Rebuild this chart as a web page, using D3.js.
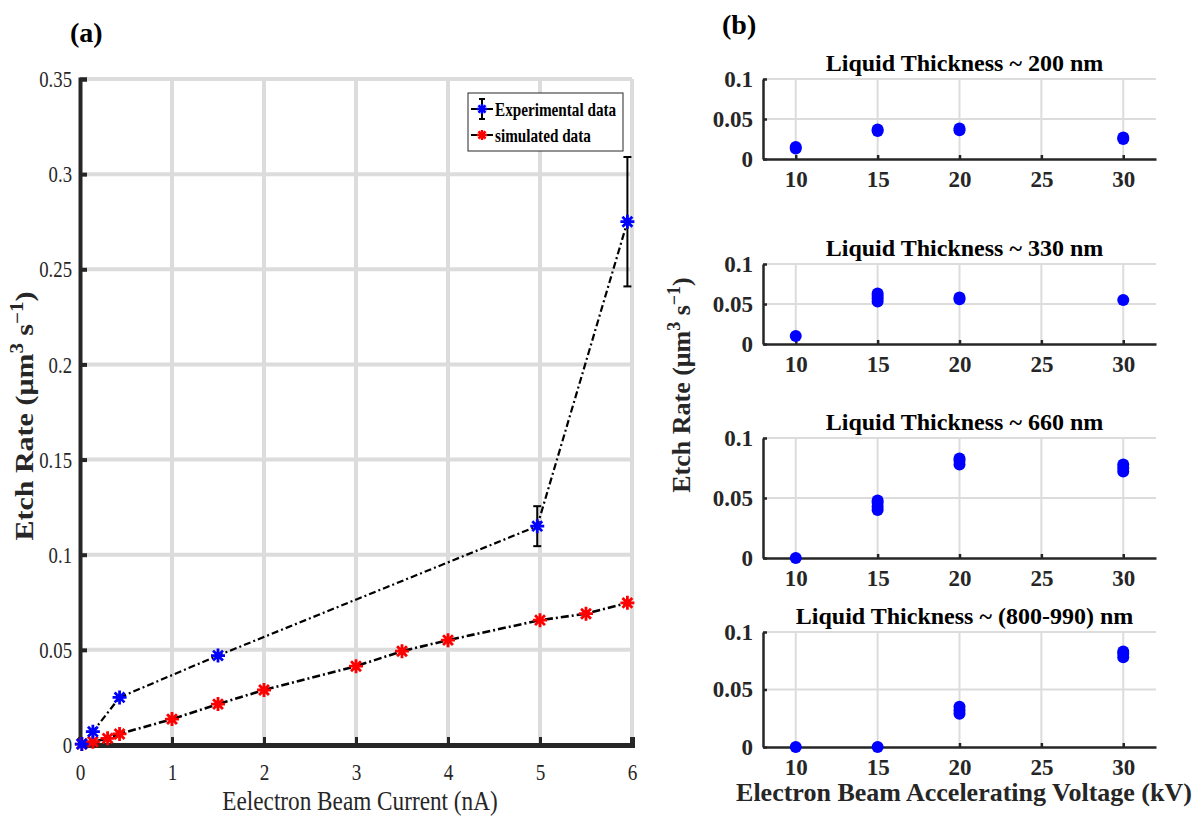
<!DOCTYPE html>
<html>
<head>
<meta charset="utf-8">
<script src="https://cdn.jsdelivr.net/npm/d3@7"></script>
<style>
  body { margin: 0; background: #fff; }
  svg, svg text { font-family: "Liberation Serif", "Times New Roman", serif; }
</style>
</head>
<body>
<div id="chart"></div>
<script>
// ---- panel (a) data ----
const currentTicks = [0, 1, 2, 3, 4, 5, 6];
const rateTicksA = [0, 0.05, 0.1, 0.15, 0.2, 0.25, 0.3, 0.35];
const expCurrent = [0.02, 0.14, 0.43, 1.5, 4.97, 5.95];
const expRate = [0.0005, 0.007, 0.025, 0.047, 0.115, 0.275];
const expErr = [0, 0, 0, 0, 0.0105, 0.034];
const simCurrent = [0.02, 0.14, 0.3, 0.43, 1, 1.5, 2, 3, 3.5, 4, 5, 5.5, 5.95];
const simRate = [0.0005, 0.0017, 0.0035, 0.0058, 0.0136, 0.0215, 0.0289, 0.0414, 0.0493, 0.0551, 0.0656, 0.069, 0.0747];

// ---- panel (b) data ----
const voltTicks = [10, 15, 20, 25, 30];
const rateTicksB = [0, 0.05, 0.1];
const thicknessTitles = ["Liquid Thickness ~ 200 nm", "Liquid Thickness ~ 330 nm",
  "Liquid Thickness ~ 660 nm", "Liquid Thickness ~ (800-990) nm"];
const volt200 = [10, 10, 15, 15, 20, 20, 30, 30];
const rate200 = [0.013, 0.015, 0.035, 0.037, 0.036, 0.038, 0.025, 0.027];
const volt330 = [10, 15, 15, 15, 15, 20, 20, 30];
const rate330 = [0.010, 0.053, 0.057, 0.060, 0.063, 0.056, 0.058, 0.055];
const volt660 = [10, 15, 15, 15, 15, 20, 20, 20, 30, 30, 30];
const rate660 = [0, 0.040, 0.043, 0.046, 0.048, 0.078, 0.081, 0.083, 0.072, 0.075, 0.078];
const volt900 = [10, 15, 20, 20, 20, 30, 30, 30];
const rate900 = [0, 0, 0.029, 0.032, 0.035, 0.078, 0.081, 0.083];

const svg = d3.select("#chart")
  .append("svg")
  .attr("width", 1193)
  .attr("height", 823);

const serif = '"Liberation Serif", "Times New Roman", serif';
const axisColor = "#262626";
const gridColor = "#dcdcdc";

// squeeze text horizontally (the reference fonts look condensed)
function squish(sel, k) {
  sel.each(function () {
    const w = this.getComputedTextLength();
    d3.select(this).attr("textLength", w * k).attr("lengthAdjust", "spacingAndGlyphs");
  });
}

// MATLAB-like '*' marker: 8 arms
function starPath(r) {
  let p = "";
  for (let k = 0; k < 4; k++) {
    const a = k * Math.PI / 4;
    p += `M${-r * Math.cos(a)},${-r * Math.sin(a)}L${r * Math.cos(a)},${r * Math.sin(a)}`;
  }
  return p;
}

function etchLabel(sel, big, small) {
  sel.append("tspan").text("Etch Rate (μm");
  sel.append("tspan").attr("dy", -big * 0.4).style("font-size", small + "px").text("3");
  sel.append("tspan").attr("dy", big * 0.4).text(" s");
  sel.append("tspan").attr("dy", -big * 0.4).style("font-size", small + "px").text("−1");
  sel.append("tspan").attr("dy", big * 0.4).text(")");
}

// =================== panel (a) ===================
const xA = d3.scaleLinear().domain([0, 6]).range([80, 632]);
const yA = d3.scaleLinear().domain([0, 0.35]).range([745, 79]);

const gA = svg.append("g");

// grid
gA.append("g")
  .selectAll("line")
  .data(currentTicks.slice(1))
  .join("line")
  .attr("x1", d => xA(d)).attr("x2", d => xA(d))
  .attr("y1", yA(0)).attr("y2", yA(0.35))
  .attr("stroke", gridColor)
  .attr("stroke-width", 4);

gA.append("g")
  .selectAll("line")
  .data(rateTicksA.slice(1))
  .join("line")
  .attr("x1", xA(0)).attr("x2", xA(6))
  .attr("y1", d => yA(d)).attr("y2", d => yA(d))
  .attr("stroke", gridColor)
  .attr("stroke-width", 4);

// axes
const axA = gA.append("g")
  .attr("transform", `translate(0,${yA(0)})`)
  .call(d3.axisBottom(xA).tickValues(currentTicks).tickSize(-8).tickPadding(18).tickFormat(d3.format("d")))
  .attr("font-family", serif);
axA.select(".domain").attr("stroke", axisColor).attr("stroke-width", 5);
axA.selectAll(".tick line").attr("stroke", axisColor).attr("stroke-width", 3);
axA.selectAll(".tick text")
  .attr("fill", axisColor)
  .style("font-family", serif)
  .style("font-size", "24px")
  .call(squish, 0.8);

const ayA = gA.append("g")
  .attr("transform", `translate(${xA(0)},0)`)
  .call(d3.axisLeft(yA).tickValues(rateTicksA).tickSize(-7).tickPadding(8).tickFormat(d => d === 0 ? "0" : String(d)))
  .attr("font-family", serif);
ayA.select(".domain").attr("stroke", axisColor).attr("stroke-width", 4);
ayA.selectAll(".tick line").attr("stroke", axisColor).attr("stroke-width", 4);
ayA.selectAll(".tick text")
  .attr("fill", axisColor)
  .style("font-family", serif)
  .style("font-size", "24px")
  .call(squish, 0.78);

// lines
const lineA = d3.line().x(d => xA(d[0])).y(d => yA(d[1]));
const expData = d3.zip(expCurrent, expRate, expErr);
const simData = d3.zip(simCurrent, simRate);

gA.append("path")
  .datum(expData)
  .attr("fill", "none")
  .attr("stroke", "#000")
  .attr("stroke-width", 2.2)
  .attr("stroke-dasharray", "7,3,2,3")
  .attr("d", lineA);

gA.append("path")
  .datum(simData)
  .attr("fill", "none")
  .attr("stroke", "#000")
  .attr("stroke-width", 2.6)
  .attr("stroke-dasharray", "8,3,2,3")
  .attr("d", lineA);

// error bars
const errG = gA.append("g")
  .selectAll("g")
  .data(expData.filter(d => d[2] > 0))
  .join("g");
errG.append("line")
  .attr("x1", d => xA(d[0])).attr("x2", d => xA(d[0]))
  .attr("y1", d => yA(d[1] - d[2])).attr("y2", d => yA(d[1] + d[2]))
  .attr("stroke", "#000").attr("stroke-width", 2);
errG.selectAll(".cap")
  .data(d => [[d[0], d[1] - d[2]], [d[0], d[1] + d[2]]])
  .join("line")
  .attr("class", "cap")
  .attr("x1", d => xA(d[0]) - 4).attr("x2", d => xA(d[0]) + 4)
  .attr("y1", d => yA(d[1])).attr("y2", d => yA(d[1]))
  .attr("stroke", "#000").attr("stroke-width", 2);

// markers
gA.append("g")
  .selectAll("path")
  .data(simData)
  .join("path")
  .attr("transform", d => `translate(${xA(d[0])},${yA(d[1])})`)
  .attr("d", starPath(7))
  .attr("stroke", "#ff0000")
  .attr("stroke-width", 2.8);

gA.append("g")
  .selectAll("path")
  .data(expData)
  .join("path")
  .attr("transform", d => `translate(${xA(d[0])},${yA(d[1])})`)
  .attr("d", starPath(7))
  .attr("stroke", "#0000ff")
  .attr("stroke-width", 2.8);

// legend
const leg = gA.append("g").attr("transform", "translate(468,93)");
leg.append("rect")
  .attr("width", 155).attr("height", 58)
  .attr("fill", "#fff").attr("stroke", "#262626").attr("stroke-width", 1);
const legItems = [
  { label: "Experimental data", color: "#0000ff", err: true, y: 16 },
  { label: "simulated data", color: "#ff0000", err: false, y: 42 }
];
const li = leg.selectAll(".item").data(legItems).join("g")
  .attr("class", "item")
  .attr("transform", d => `translate(0,${d.y})`);
li.append("line").attr("x1", 3).attr("x2", 25).attr("stroke", "#000").attr("stroke-width", 2);
li.filter(d => d.err).append("line")
  .attr("x1", 14).attr("x2", 14).attr("y1", -10).attr("y2", 10)
  .attr("stroke", "#000").attr("stroke-width", 2);
li.filter(d => d.err).selectAll(".cap").data([-10, 10]).join("line")
  .attr("x1", 11).attr("x2", 17).attr("y1", d => d).attr("y2", d => d)
  .attr("stroke", "#000").attr("stroke-width", 2);
li.append("path")
  .attr("transform", "translate(14,0)")
  .attr("d", starPath(5))
  .attr("stroke", d => d.color).attr("stroke-width", 2.5);
li.append("text")
  .attr("x", 27).attr("dy", "0.35em")
  .style("font-size", "19px").style("font-weight", "bold")
  .text(d => d.label)
  .call(squish, 0.8);

// labels
gA.append("text")
  .attr("x", (xA(0) + xA(6)) / 2 + 4).attr("y", 810)
  .attr("text-anchor", "middle")
  .attr("fill", axisColor)
  .style("font-size", "27px")
  .text("Eelectron Beam Current (nA)")
  .call(squish, 0.86);

gA.append("text")
  .attr("transform", `translate(33,${(yA(0) + yA(0.35)) / 2 + 4}) rotate(-90) scale(1,0.85)`)
  .attr("text-anchor", "middle")
  .attr("fill", axisColor)
  .style("font-size", "30px").style("font-weight", "bold")
  .call(etchLabel, 30, 21);

svg.append("text")
  .attr("x", 70).attr("y", 42)
  .style("font-size", "28px").style("font-weight", "bold")
  .text("(a)");

// =================== panel (b) ===================
svg.append("text")
  .attr("x", 722).attr("y", 34)
  .style("font-size", "28px").style("font-weight", "bold")
  .text("(b)");

const xB = d3.scaleLinear().domain([8, 32]).range([763, 1156]);
const panels = [
  { title: thicknessTitles[0], volt: volt200, rate: rate200, top: 79, bottom: 159 },
  { title: thicknessTitles[1], volt: volt330, rate: rate330, top: 264, bottom: 344 },
  { title: thicknessTitles[2], volt: volt660, rate: rate660, top: 438, bottom: 558 },
  { title: thicknessTitles[3], volt: volt900, rate: rate900, top: 632, bottom: 747 }
];

panels.forEach(p => {
  const y = d3.scaleLinear().domain([0, 0.1]).range([p.bottom, p.top]);
  const g = svg.append("g");

  g.append("g").selectAll("line")
    .data(voltTicks)
    .join("line")
    .attr("x1", d => xB(d)).attr("x2", d => xB(d))
    .attr("y1", p.bottom).attr("y2", p.top)
    .attr("stroke", gridColor).attr("stroke-width", 2);
  g.append("g").selectAll("line")
    .data(rateTicksB.slice(1))
    .join("line")
    .attr("x1", xB(8)).attr("x2", xB(32))
    .attr("y1", d => y(d)).attr("y2", d => y(d))
    .attr("stroke", gridColor).attr("stroke-width", 2);

  const ax = g.append("g")
    .attr("transform", `translate(0,${p.bottom})`)
    .call(d3.axisBottom(xB).tickValues(voltTicks).tickSize(-4).tickPadding(12).tickSizeOuter(0))
    .attr("font-family", serif);
  ax.select(".domain").attr("stroke", axisColor).attr("stroke-width", 2.5);
  ax.selectAll(".tick line").attr("stroke", axisColor).attr("stroke-width", 2.5);
  ax.selectAll(".tick text")
    .attr("fill", axisColor)
    .style("font-family", serif)
    .style("font-size", "23px").style("font-weight", "bold");

  const ay = g.append("g")
    .attr("transform", `translate(${xB(8)},0)`)
    .call(d3.axisLeft(y).tickValues(rateTicksB).tickSize(-4).tickPadding(10).tickSizeOuter(0)
      .tickFormat(d => d === 0 ? "0" : String(d)))
    .attr("font-family", serif);
  ay.select(".domain").attr("stroke", axisColor).attr("stroke-width", 2.5);
  ay.selectAll(".tick line").attr("stroke", axisColor).attr("stroke-width", 2.5);
  ay.selectAll(".tick text")
    .attr("fill", axisColor)
    .style("font-family", serif)
    .style("font-size", "23px").style("font-weight", "bold");

  g.append("g").selectAll("circle")
    .data(d3.zip(p.volt, p.rate))
    .join("circle")
    .attr("cx", d => xB(d[0]))
    .attr("cy", d => y(d[1]))
    .attr("r", 6)
    .attr("fill", "#0000ff");

  g.append("text")
    .attr("x", (xB(8) + xB(32)) / 2 + 5).attr("y", p.top - 8)
    .attr("text-anchor", "middle")
    .attr("fill", "#000")
    .style("font-size", "24px").style("font-weight", "bold")
    .text(p.title);
});

svg.append("text")
  .attr("x", 964).attr("y", 801)
  .attr("text-anchor", "middle")
  .attr("fill", axisColor)
  .style("font-size", "26px").style("font-weight", "bold")
  .text("Electron Beam Accelerating Voltage (kV)");

svg.append("text")
  .attr("transform", "translate(690,385) rotate(-90)")
  .attr("text-anchor", "middle")
  .attr("fill", axisColor)
  .style("font-size", "26px").style("font-weight", "bold")
  .call(etchLabel, 26, 18);
</script>
</body>
</html>
